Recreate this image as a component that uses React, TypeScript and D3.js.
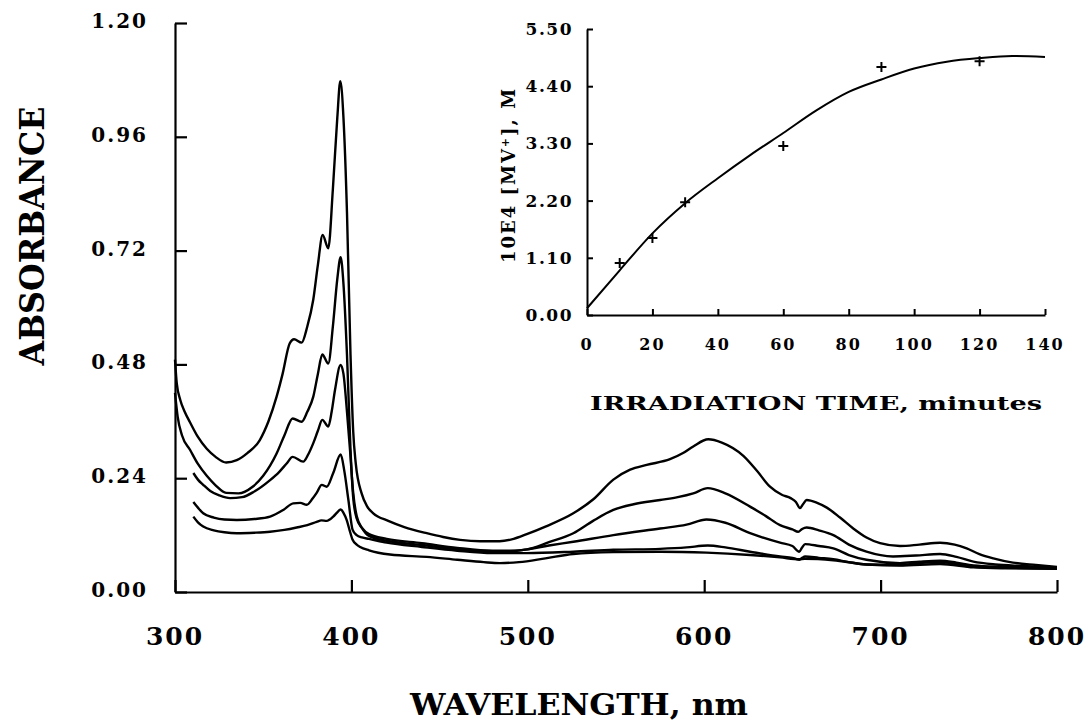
import React, { useEffect, useRef } from "react";
import * as d3 from "d3";

// ---------- Main spectra (wavelength nm, absorbance) ----------
const curveA: [number, number][] = [
  [300, 0.49], [301, 0.44], [303, 0.405], [305.5, 0.38], [308.5, 0.358], [313, 0.327], [318, 0.302], [323, 0.285], [329, 0.273],
  [335, 0.278], [341, 0.293], [348, 0.32], [353, 0.36], [357.6, 0.412], [361, 0.46], [365, 0.524], [367.5, 0.533],
  [371.8, 0.526], [375, 0.56], [378.4, 0.617], [381, 0.69], [383.7, 0.753], [386.9, 0.725], [389.5, 0.85],
  [392, 1.0], [393.7, 1.077], [395.5, 1.0], [397.5, 0.8], [399.5, 0.5], [401, 0.34], [402.5, 0.27],
  [405.8, 0.208], [409, 0.18], [412.4, 0.166], [420.9, 0.15], [430, 0.137], [442.7, 0.124], [452, 0.116],
  [461.6, 0.11], [473, 0.107], [484, 0.107], [492, 0.112], [499.4, 0.122], [510, 0.138], [525.8, 0.166],
  [537, 0.195], [548.5, 0.237], [558, 0.258], [567.4, 0.268], [580.6, 0.28], [588, 0.293], [593.8, 0.307],
  [602.3, 0.322], [610, 0.315], [622.2, 0.287], [630, 0.255], [637.3, 0.222], [644, 0.205], [649, 0.198],
  [652, 0.19], [654.3, 0.177], [656, 0.185], [658.1, 0.194], [664, 0.188], [669.5, 0.178], [677, 0.157],
  [684.5, 0.134], [692, 0.115], [699.7, 0.103], [711, 0.097], [722, 0.1], [733.7, 0.104], [742, 0.1],
  [748.8, 0.092], [756, 0.08], [763.9, 0.071], [775, 0.062], [788, 0.057], [800, 0.053],
];
const curveB: [number, number][] = [
  [300, 0.42], [301.5, 0.37], [304, 0.33], [308.5, 0.3], [313, 0.27], [318, 0.245], [323, 0.225], [329, 0.209],
  [336, 0.208], [344, 0.222], [350, 0.245], [357.6, 0.292], [362, 0.33], [366.7, 0.366], [371.8, 0.359],
  [375, 0.38], [378.4, 0.412], [381, 0.46], [383.5, 0.501], [386.9, 0.482], [389.5, 0.56], [392, 0.66],
  [393.9, 0.706], [395.5, 0.65], [397.5, 0.5], [399.5, 0.3], [401, 0.2], [403, 0.155], [406, 0.135],
  [410, 0.122], [420, 0.112], [440, 0.103], [460, 0.093], [480, 0.087], [490, 0.087], [500, 0.09],
  [512, 0.105], [525.8, 0.124], [537, 0.15], [548.5, 0.173], [560, 0.185], [575, 0.194], [585, 0.2],
  [593.8, 0.208], [602, 0.219], [612, 0.208], [626, 0.18], [635, 0.16], [643, 0.141], [650, 0.132],
  [653.3, 0.127], [655.5, 0.133], [658.1, 0.136], [665, 0.13], [673.2, 0.12], [682, 0.1], [692, 0.085],
  [707, 0.075], [720, 0.077], [733.7, 0.08], [743, 0.074], [752.6, 0.064], [765, 0.058], [780, 0.055], [800, 0.052],
];
const curveC: [number, number][] = [
  [310.4, 0.251], [313, 0.237], [316, 0.226], [320, 0.213], [325, 0.204], [331.2, 0.198], [338, 0.2],
  [345, 0.212], [353.9, 0.236], [359, 0.253], [363.3, 0.271], [366.7, 0.285], [372.7, 0.275], [375.5, 0.29],
  [378.4, 0.314], [381, 0.34], [383.5, 0.363], [386.9, 0.349], [388.8, 0.38], [390.7, 0.426], [393.9, 0.479],
  [395.5, 0.46], [397.5, 0.38], [399.2, 0.3], [401, 0.21], [403, 0.16], [406, 0.135], [410, 0.118],
  [420, 0.108], [440, 0.099], [460, 0.09], [480, 0.084], [490, 0.085], [499.4, 0.09], [512, 0.098],
  [525.8, 0.106], [548.5, 0.12], [575, 0.134], [590, 0.142], [601.3, 0.153], [612, 0.146], [626, 0.124],
  [643, 0.104], [650, 0.097], [653.9, 0.085], [655.5, 0.094], [657.2, 0.101], [665, 0.097], [673.2, 0.092],
  [682, 0.078], [692, 0.068], [711, 0.061], [722, 0.064], [733.7, 0.066], [743, 0.062], [752.6, 0.056],
  [770, 0.053], [800, 0.051],
];
const curveD: [number, number][] = [
  [310.4, 0.19], [313, 0.178], [316, 0.166], [322, 0.157], [328, 0.153], [335, 0.152], [345, 0.154],
  [353.9, 0.159], [361.4, 0.173], [367, 0.187], [371, 0.188], [374.7, 0.184], [378, 0.197], [380.3, 0.209],
  [383.2, 0.226], [386, 0.222], [389.7, 0.251], [393.9, 0.29], [396, 0.255], [398.3, 0.194], [400.7, 0.131],
  [403, 0.12], [406, 0.115], [410, 0.112], [420, 0.104], [440, 0.095], [460, 0.087], [480, 0.082],
  [499.4, 0.082], [525.8, 0.085], [548.5, 0.089], [575, 0.091], [590, 0.094], [602, 0.098], [612, 0.094],
  [626, 0.085], [643, 0.075], [650, 0.072], [653.9, 0.068], [655.5, 0.072], [657.2, 0.075], [665, 0.072],
  [673.2, 0.069], [682, 0.063], [692, 0.058], [711, 0.057], [722, 0.061], [733.7, 0.063], [743, 0.059],
  [752.6, 0.053], [770, 0.051], [800, 0.049],
];
const curveE: [number, number][] = [
  [310.4, 0.159], [313, 0.147], [316, 0.138], [322, 0.13], [328, 0.126], [335, 0.124], [345, 0.125],
  [353.9, 0.127], [362, 0.131], [369, 0.136], [375, 0.141], [380.3, 0.148], [383, 0.151], [386, 0.15],
  [389.7, 0.159], [392, 0.168], [393.9, 0.174], [395.5, 0.167], [397.3, 0.152], [399, 0.13], [400.7, 0.11],
  [403, 0.1], [405, 0.095], [410, 0.088], [421.9, 0.079], [442.7, 0.074], [460, 0.068], [475, 0.063],
  [484.2, 0.061], [495, 0.063], [510, 0.071], [525.8, 0.08], [548.5, 0.084], [575, 0.085], [601.3, 0.083],
  [626, 0.078], [643, 0.073], [653.9, 0.069], [657, 0.07], [673.2, 0.067], [692, 0.058], [711, 0.056],
  [733.7, 0.059], [752.6, 0.052], [770, 0.05], [800, 0.049],
];
const spectra = [curveA, curveB, curveC, curveD, curveE];

const mainXTicks = [300, 400, 500, 600, 700, 800];
const mainYTicks = [0, 0.24, 0.48, 0.72, 0.96, 1.2];

// ---------- Inset (irradiation time, 10E4 [MV+]) ----------
const insetPointTime = [10, 20, 30, 60, 90, 120];
const insetPointConc = [1.0, 1.48, 2.17, 3.25, 4.77, 4.88];
const insetFitTime = [0, 10, 20, 30, 40, 50, 60, 70, 80, 90, 100, 110, 120, 130, 140];
const insetFitConc = [0.13, 0.86, 1.57, 2.15, 2.63, 3.08, 3.5, 3.93, 4.29, 4.53, 4.74, 4.87, 4.94, 4.98, 4.96];
const insetXTicks = [0, 20, 40, 60, 80, 100, 120, 140];
const insetYTicks = [0, 1.1, 2.2, 3.3, 4.4, 5.5];

const FONT = "'DejaVu Serif', serif";

export default function App() {
  const x = d3.scaleLinear().domain([300, 800]).range([175, 1057]);
  const y = d3.scaleLinear().domain([0, 1.2]).range([592, 23]);
  const xi = d3.scaleLinear().domain([0, 140]).range([587, 1045]);
  const yi = d3.scaleLinear().domain([0, 5.5]).range([315, 29]);

  const line = d3
    .line<[number, number]>()
    .x((d) => x(d[0]))
    .y((d) => y(d[1]))
    .curve(d3.curveMonotoneX);
  const fitLine = d3
    .line<number>()
    .x((_, i) => xi(insetFitTime[i]))
    .y((d) => yi(d))
    .curve(d3.curveMonotoneX);

  const axRef = useRef<SVGGElement | null>(null);

  useEffect(() => {
    const g = d3.select(axRef.current);
    g.selectAll("*").remove();
    const style = (sel: any, w: number) => {
      sel.selectAll("path").attr("stroke", "#000").attr("stroke-width", w);
      sel.selectAll("line").attr("stroke", "#000").attr("stroke-width", w);
      sel.selectAll("text").remove();
    };
    g.append("g")
      .attr("transform", `translate(0,${y(0)})`)
      .call(d3.axisBottom(x).tickValues(mainXTicks).tickSizeInner(-12).tickSizeOuter(0).tickFormat(() => ""))
      .call((s: any) => style(s, 2.2));
    g.append("g")
      .attr("transform", `translate(${x(300)},0)`)
      .call(d3.axisLeft(y).tickValues(mainYTicks).tickSizeInner(-12).tickSizeOuter(0).tickFormat(() => ""))
      .call((s: any) => style(s, 2.2));
    g.append("g")
      .attr("transform", `translate(0,${yi(0)})`)
      .call(d3.axisBottom(xi).tickValues(insetXTicks).tickSizeInner(-6).tickSizeOuter(0).tickFormat(() => ""))
      .call((s: any) => style(s, 2));
    g.append("g")
      .attr("transform", `translate(${xi(0)},0)`)
      .call(d3.axisLeft(yi).tickValues(insetYTicks).tickSizeInner(-6).tickSizeOuter(0).tickFormat(() => ""))
      .call((s: any) => style(s, 2));
  }, []);

  return (
    <svg
      width={1090}
      height={727}
      style={{ position: "absolute", left: 0, top: 0, background: "#fff" }}
      fontFamily={FONT}
      fontWeight="bold"
    >
      <rect x={0} y={0} width={1090} height={727} fill="#fff" />
      <g ref={axRef} />
      {mainXTicks.map((t) => (
        <text key={"xt" + t} x={x(t)} y={645} textAnchor="middle" fontSize={25} letterSpacing={2}>
          {t}
        </text>
      ))}
      {mainYTicks.map((t) => (
        <text
          key={"yt" + t}
          x={148}
          y={y(t) - 2}
          textAnchor="end"
          dominantBaseline="central"
          fontSize={20}
          letterSpacing={2}
        >
          {t.toFixed(2)}
        </text>
      ))}
      <text
        transform="translate(44,236) rotate(-90)"
        textAnchor="middle"
        fontSize={33}
        textLength={259}
        lengthAdjust="spacingAndGlyphs"
      >
        ABSORBANCE
      </text>
      <text x={410} y={715} fontSize={30} textLength={338} lengthAdjust="spacingAndGlyphs">
        WAVELENGTH,  nm
      </text>

      {spectra.map((s, i) => (
        <path key={"s" + i} d={line(s) || ""} fill="none" stroke="#000" strokeWidth={2.4} strokeLinejoin="round" />
      ))}

      {insetXTicks.map((t) => (
        <text key={"ixt" + t} x={xi(t)} y={350} textAnchor="middle" fontSize={16} letterSpacing={2}>
          {t}
        </text>
      ))}
      {insetYTicks.map((t) => (
        <text
          key={"iyt" + t}
          x={573}
          y={yi(t)}
          textAnchor="end"
          dominantBaseline="central"
          fontSize={17}
          letterSpacing={1.5}
        >
          {t.toFixed(2)}
        </text>
      ))}
      <path d={fitLine(insetFitConc) || ""} fill="none" stroke="#000" strokeWidth={2} />
      {insetPointTime.map((t, i) => (
        <path
          key={"ip" + i}
          d={`M${xi(t) - 5},${yi(insetPointConc[i])}h10M${xi(t)},${yi(insetPointConc[i]) - 5}v10`}
          stroke="#000"
          strokeWidth={2}
          fill="none"
        />
      ))}
      <g transform="translate(515,175) rotate(-90)">
        <text textAnchor="middle" fontSize={18} letterSpacing={2}>
          10E4 [MV<tspan fontSize={11} baselineShift="super">+</tspan>], M
        </text>
      </g>
      <text x={590} y={410} fontSize={19} textLength={452} lengthAdjust="spacingAndGlyphs">
        IRRADIATION  TIME,  minutes
      </text>
    </svg>
  );
}
